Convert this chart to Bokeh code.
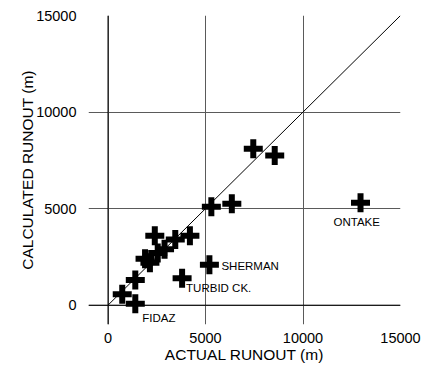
from bokeh.plotting import figure
from bokeh.models import FixedTicker, Span, ColumnDataSource, Range1d
from bokeh.core.properties import value
from bokeh.embed import file_html
from bokeh.resources import INLINE

# ---- data ----
actual_runout = [730, 1400, 1400, 1900, 2150, 2550, 2900, 2400, 3450, 4200,
                 3800, 5200, 5300, 6350, 7450, 8550, 12950]
calculated_runout = [560, 70, 1300, 2400, 2200, 2700, 2900, 3600, 3400, 3600,
                     1400, 2100, 5100, 5250, 8100, 7750, 5300]
label_names = ["FIDAZ", "TURBID CK.", "SHERMAN", "ONTAKE"]
label_points = [1, 10, 11, 16]
tick_values = [0, 5000, 10000, 15000]
equality_line = [0, 15000]

# ---- layout of label offsets (pixels) ----
label_dx = [7, 4, 12, -27]
label_dy = [14, 10, 1, 19]

FONT = "Liberation Sans"

p = figure(width=421, height=365, output_backend="svg", toolbar_location=None,
           x_range=Range1d(-1000, 15000), y_range=Range1d(-1000, 15000),
           min_border_left=88, min_border_top=15, min_border_right=21,
           min_border_bottom=41)
p.outline_line_color = None
p.background_fill_color = "white"
p.border_fill_color = "white"

for ax in (p.xaxis[0], p.yaxis[0]):
    ax.ticker = FixedTicker(ticks=tick_values)
    ax.axis_line_color = None
    ax.major_tick_line_color = None
    ax.minor_tick_line_color = None
    ax.major_label_text_font = FONT
    ax.major_label_text_font_size = "14.5px"
    ax.major_label_text_color = "black"
    ax.axis_label_text_font = FONT
    ax.axis_label_text_font_size = "15.5px"
    ax.axis_label_text_font_style = "normal"
    ax.axis_label_text_color = "black"

p.xaxis.axis_label = "ACTUAL RUNOUT (m)"
p.yaxis.axis_label = "CALCULATED RUNOUT (m)"
p.xaxis.major_label_standoff = 2
p.xaxis.axis_label_standoff = 0
p.yaxis.major_label_standoff = 6
p.yaxis.axis_label_standoff = -3

for g in (p.xgrid[0], p.ygrid[0]):
    g.ticker = FixedTicker(ticks=tick_values)
    g.grid_line_color = "#5a5a5a"
    g.grid_line_width = 1

p.add_layout(Span(location=0, dimension="height", line_color="black", line_width=1))
p.add_layout(Span(location=0, dimension="width", line_color="black", line_width=1))

p.line(equality_line, equality_line, line_color="black", line_width=1)

p.scatter(actual_runout, calculated_runout, marker="cross", size=19,
          line_width=6, line_color="black")

src = ColumnDataSource(dict(
    x=[actual_runout[i] for i in label_points],
    y=[calculated_runout[i] for i in label_points],
    t=label_names, dx=label_dx, dy=label_dy))
p.text(x="x", y="y", text="t", x_offset="dx", y_offset="dy", source=src,
       text_font=value(FONT), text_font_size="11.5px", text_color="black",
       text_align="left", text_baseline="middle")

open("out.html", "w").write(file_html(p, INLINE))
